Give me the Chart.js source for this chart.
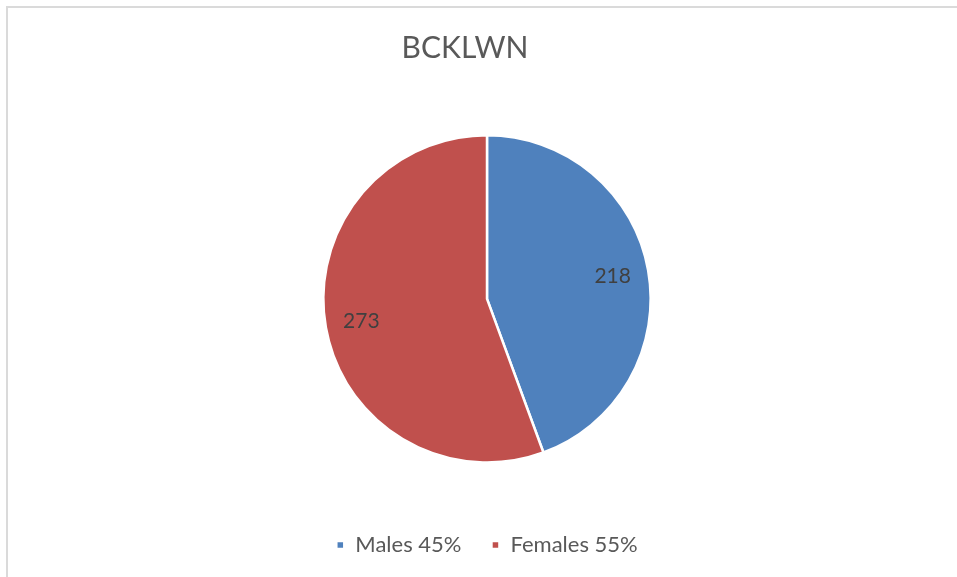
<!DOCTYPE html>
<html>
<head>
<meta charset="utf-8">
<script src="https://cdn.jsdelivr.net/npm/chart.js@4"></script>
<style>
    html, body { margin: 0; padding: 0; background: #fff; }
    body { width: 957px; height: 577px; position: relative; overflow: hidden; }
    #frame {
        position: absolute; left: 6px; top: 6px; width: 1000px; height: 700px;
        border-top: 2px solid #dadada; border-left: 2px solid #dadada;
    }
    #wrap { position: absolute; left: 0; top: 0; width: 957px; height: 577px; }
</style>
</head>
<body>
<div id="frame"></div>
<div id="wrap"><canvas id="pieChart"></canvas></div>
<script>
// Chart data
const categories = ['Males 45%', 'Females 55%'];
const counts = [218, 273];
const sliceColors = ['#4F81BD', '#C0504D'];
const chartTitle = 'BCKLWN';

const FONT = 'Lato, "Open Sans", sans-serif';

// Draws the count inside each slice, like Excel's data labels
const sliceLabels = {
    id: 'sliceLabels',
    afterDatasetsDraw(chart) {
        const ctx = chart.ctx;
        const meta = chart.getDatasetMeta(0);
        ctx.save();
        ctx.font = '21px ' + FONT;
        ctx.fillStyle = '#404040';
        ctx.textAlign = 'center';
        ctx.textBaseline = 'middle';
        meta.data.forEach(function (arc, i) {
            const p = arc.getProps(['x', 'y', 'startAngle', 'endAngle', 'outerRadius']);
            const mid = (p.startAngle + p.endAngle) / 2;
            const r = p.outerRadius * 0.78;
            ctx.fillText(String(counts[i]), p.x + Math.cos(mid) * r, p.y + Math.sin(mid) * r);
        });
        ctx.restore();
    }
};

// Title sits a bit left of the pie in the original
const titleNudge = {
    id: 'titleNudge',
    afterLayout(chart) {
        if (chart.titleBlock) chart.titleBlock.right -= 44;
    }
};

const ctx = document.getElementById('pieChart');
new Chart(ctx, {
    type: 'pie',
    data: {
        labels: categories,
        datasets: [{
            data: counts,
            backgroundColor: sliceColors,
            borderColor: '#ffffff',
            borderWidth: 2.5
        }]
    },
    options: {
        responsive: true,
        maintainAspectRatio: false,
        animation: false,
        layout: { padding: { top: 0, bottom: 11, left: 17 } },
        plugins: {
            title: {
                display: true,
                text: chartTitle,
                color: '#595959',
                font: { family: FONT, size: 30, weight: 'normal' },
                padding: { top: 30, bottom: 68 }
            },
            legend: {
                position: 'bottom',
                title: {
                    display: true,
                    text: '',
                    font: { size: 1 },
                    padding: { top: 39, bottom: 0 }
                },
                labels: {
                    color: '#595959',
                    font: { family: FONT, size: 22 },
                    usePointStyle: true,
                    pointStyle: 'rect',
                    boxWidth: 8,
                    boxHeight: 8,
                    padding: 30
                }
            },
            tooltip: { enabled: false }
        }
    },
    plugins: [sliceLabels, titleNudge]
});
</script>
</body>
</html>
